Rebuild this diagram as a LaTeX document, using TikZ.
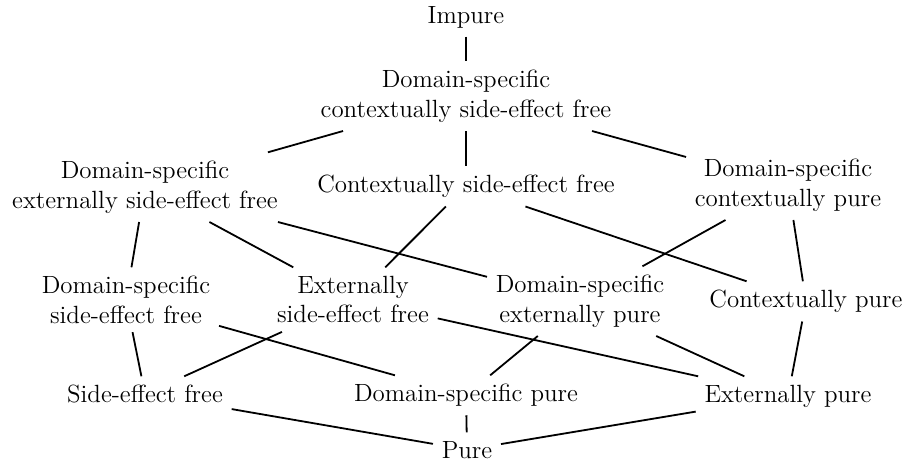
\documentclass[tikz,border=0pt]{standalone}
\begin{document}
\begin{tikzpicture}[x=0.5pt,y=-0.5pt,
  lab/.style={align=center, inner sep=4.2pt, anchor=north, yshift=12.85pt,
    font=\fontsize{12.45}{14.75}\selectfont},
  link/.style={line width=0.9pt}]
\useasboundingbox (0,0) rectangle (906,465);
\node[lab] (imp)    at (466,23)  {Impure};
\node[lab] (dscsef) at (466,87)  {Domain-specific\\contextually side-effect free};
\node[lab] (dsesef) at (145,178) {Domain-specific\\externally side-effect free};
\node[lab] (csef)   at (466,192) {Contextually side-effect free};
\node[lab] (dscp)   at (788,176) {Domain-specific\\contextually pure};
\node[lab] (dssef)  at (126,293) {Domain-specific\\side-effect free};
\node[lab] (esef)   at (353,293) {Externally\\side-effect free};
\node[lab] (dsep)   at (580,292) {Domain-specific\\externally pure};
\node[lab] (cp)     at (806,307) {Contextually pure};
\node[lab] (sef)    at (145,402) {Side-effect free};
\node[lab] (dsp)    at (466,401) {Domain-specific pure};
\node[lab] (ep)     at (788,402) {Externally pure};
\node[lab] (pure)   at (467,458) {Pure};
\draw[link] (imp) -- (dscsef);
\draw[link] (dscsef) -- (dsesef);
\draw[link] (dscsef) -- (csef);
\draw[link] (dscsef) -- (dscp);
\draw[link] (dsesef) -- (dssef);
\draw[link] (dsesef) -- (esef);
\draw[link] (dsesef) -- (dsep);
\draw[link] (csef) -- (esef);
\draw[link] (csef) -- (cp);
\draw[link] (dscp) -- (dsep);
\draw[link] (dscp) -- (cp);
\draw[link] (dssef) -- (sef);
\draw[link] (dssef) -- (dsp);
\draw[link] (esef) -- (sef);
\draw[link] (esef) -- (ep);
\draw[link] (dsep) -- (dsp);
\draw[link] (dsep) -- (ep);
\draw[link] (cp) -- (ep);
\draw[link] (sef) -- (pure);
\draw[link] (dsp) -- (pure);
\draw[link] (ep) -- (pure);
\end{tikzpicture}
\end{document}
